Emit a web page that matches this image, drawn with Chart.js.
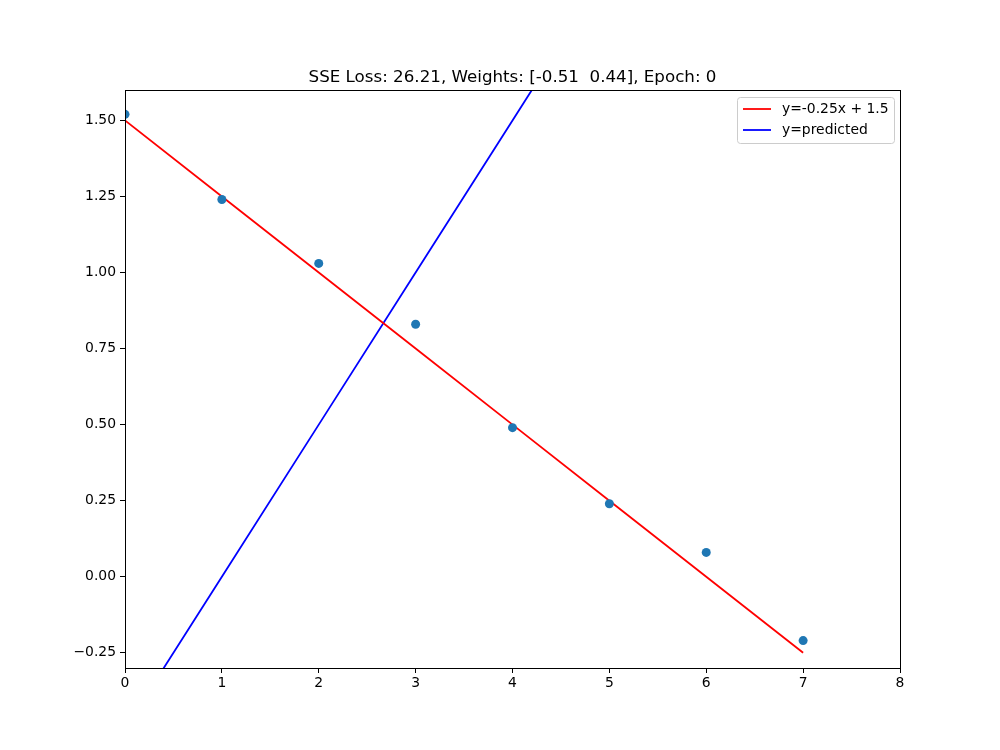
<!DOCTYPE html>
<html><head><meta charset="utf-8">
<script src="https://cdn.jsdelivr.net/npm/chart.js@4"></script>
<style>html,body{margin:0;padding:0;background:#fff}#wrap{width:1000px;height:750px}</style>
</head><body><div id="wrap"><canvas id="c"></canvas></div>
<script>
const xVals = [0,1,2,3,4,5,6,7];
const observed = [1.52,1.24,1.03,0.83,0.49,0.24,0.08,-0.21];
const trueLine = [1.5,1.25,1.0,0.75,0.5,0.25,0.0,-0.25];
const predicted = [-0.50,0.0,0.50,1.0,1.50,2.0,2.50,3.0];
const yTicks = [-0.25,0,0.25,0.5,0.75,1.0,1.25,1.5];
const xTicks = [0,1,2,3,4,5,6,7,8];
const titleText = 'SSE Loss: 26.21, Weights: [-0.51  0.44], Epoch: 0';
const legendLabels = ['y=-0.25x + 1.5','y=predicted'];
const FONT = '"DejaVu Sans", sans-serif';

const frame = {
  id:'frame',
  afterDraw(ch){
    const {ctx, chartArea:a} = ch;
    ctx.save();
    ctx.strokeStyle='#000'; ctx.lineWidth=1;
    ctx.strokeRect(a.left+0.5,a.top+0.5,a.right-a.left,a.bottom-a.top);
    ctx.fillStyle='#000'; ctx.font='16.7px '+FONT; ctx.textAlign='center'; ctx.textBaseline='alphabetic';
    ctx.fillText(titleText,(a.left+a.right)/2,a.top-8);
    const bx=737, by=97, bw=157, bh=46;
    ctx.fillStyle='rgba(255,255,255,0.8)'; ctx.strokeStyle='#ccc';
    ctx.beginPath(); ctx.roundRect(bx+0.5,by+0.5,bw,bh,3); ctx.fill(); ctx.stroke();
    const cols=['#ff0000','#0000ff'];
    ctx.font='13.9px '+FONT; ctx.textAlign='left'; ctx.textBaseline='middle';
    legendLabels.forEach((t,i)=>{
      const y=by+12+i*21;
      ctx.strokeStyle=cols[i]; ctx.lineWidth=1.8;
      ctx.beginPath(); ctx.moveTo(bx+6,y); ctx.lineTo(bx+34,y); ctx.stroke();
      ctx.fillStyle='#000'; ctx.fillText(t,bx+45,y);
    });
    ctx.restore();
  }
};

new Chart(document.getElementById('c'),{
  type:'scatter',
  data:{datasets:[
    {type:'line',data:xVals.map((x,i)=>({x,y:trueLine[i]})),borderColor:'#ff0000',borderWidth:1.8,pointRadius:0,fill:false,order:2},
    {type:'line',data:xVals.map((x,i)=>({x,y:predicted[i]})),borderColor:'#0000ff',borderWidth:1.8,pointRadius:0,fill:false,order:3},
    {data:xVals.map((x,i)=>({x,y:observed[i]})),backgroundColor:'#1f77b4',borderWidth:0,pointRadius:4.5,order:1}
  ]},
  options:{
    responsive:true,maintainAspectRatio:false,animation:false,
    layout:{padding:{top:90,right:100,left:0,bottom:0}},
    plugins:{legend:{display:false},tooltip:{enabled:false}},
    scales:{
      x:{type:'linear',min:0,max:8,
        afterFit(s){s.height=82;},
        afterBuildTicks(s){s.ticks=xTicks.map(v=>({value:v}));},
        ticks:{color:'#000',font:{family:FONT,size:13.9},padding:2,maxRotation:0,callback:v=>String(v)},
        grid:{drawOnChartArea:false,tickLength:5,color:'#000'},border:{color:'#000'}},
      y:{type:'linear',min:-0.3,max:1.6,
        afterFit(s){s.width=125;},
        afterBuildTicks(s){s.ticks=yTicks.map(v=>({value:v}));},
        ticks:{color:'#000',font:{family:FONT,size:13.9},padding:4,callback:v=>(v<0?'\u2212':'')+Math.abs(v).toFixed(2)},
        grid:{drawOnChartArea:false,tickLength:5,color:'#000'},border:{color:'#000'}}
    }
  },
  plugins:[frame]
});
</script></body></html>
